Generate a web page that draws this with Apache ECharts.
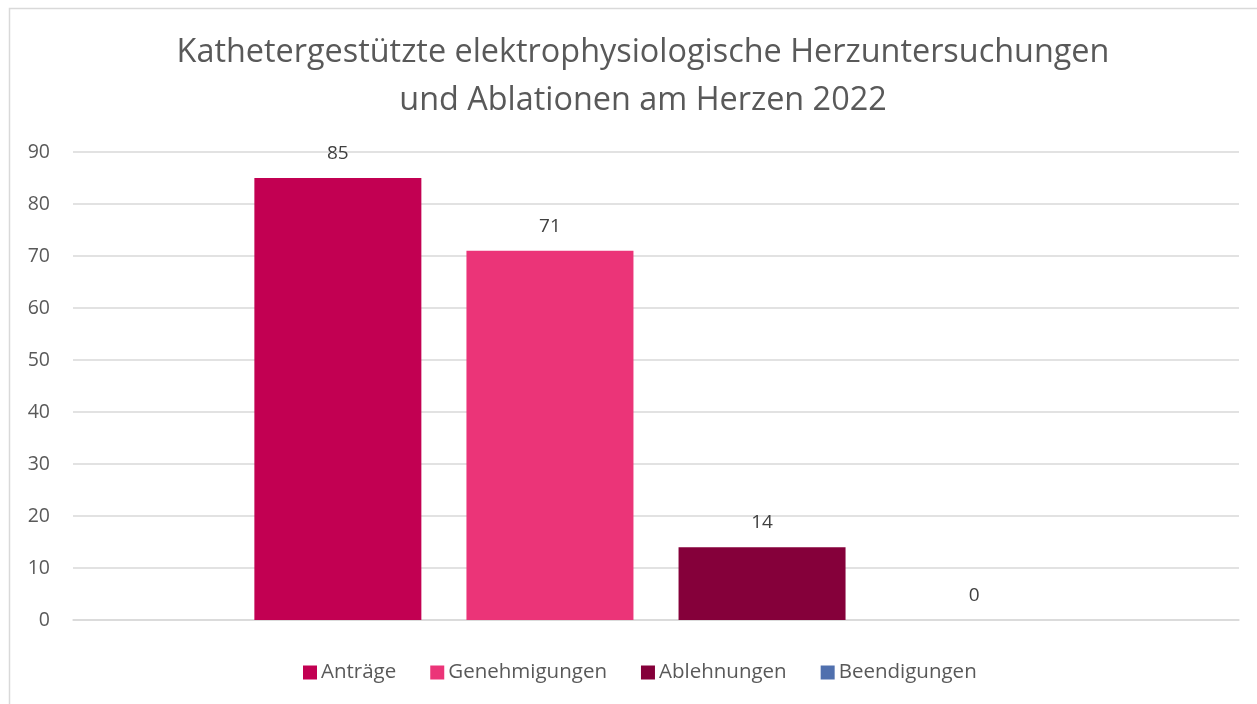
<!DOCTYPE html>
<html>
<head>
<meta charset="utf-8">
<script src="https://cdn.jsdelivr.net/npm/echarts@6/dist/echarts.min.js"></script>
<style>
  html, body { margin: 0; padding: 0; background: #fff; }
  #chart { width: 1257px; height: 704px; }
</style>
</head>
<body>
<div id="chart"></div>
<script>
const categories = ["2022"];
const seriesNames = ["Anträge", "Genehmigungen", "Ablehnungen", "Beendigungen"];
const seriesValues = [[85], [71], [14], [0]];
const seriesColors = ["#C20052", "#EB3478", "#85003A", "#5070AE"];
const yTicks = { min: 0, max: 90, interval: 10 };

const chart = echarts.init(document.getElementById("chart"));
const font = "'Open Sans', sans-serif";

chart.setOption({
  animation: false,
  textStyle: { fontFamily: font },
  title: {
    text: "Kathetergestützte elektrophysiologische Herzuntersuchungen\nund Ablationen am Herzen 2022",
    left: 638,
    textAlign: "center",
    top: 24,
    textStyle: { fontFamily: font, fontSize: 32.4, fontWeight: "normal", color: "#595959", lineHeight: 48 }
  },
  graphic: [
    {
      type: "rect",
      shape: { x: 9.5, y: 8.5, width: 1300, height: 760 },
      style: { fill: "none", stroke: "#d9d9d9", lineWidth: 1.5 },
      silent: true
    }
  ],
  legend: {
    data: seriesNames,
    left: 298,
    top: 657,
    itemWidth: 14,
    itemHeight: 14,
    itemGap: 34,
    icon: "rect",
    textStyle: { fontFamily: font, fontSize: 20.5, color: "#595959", padding: [0, 0, 0, -1] }
  },
  grid: { left: 73, right: 18, top: 152, bottom: 84 },
  xAxis: {
    type: "category",
    data: categories,
    axisLine: { lineStyle: { color: "#d9d9d9", width: 1.5 } },
    axisTick: { show: false },
    axisLabel: { show: false }
  },
  yAxis: {
    type: "value",
    min: yTicks.min,
    max: yTicks.max,
    interval: yTicks.interval,
    axisLine: { show: false },
    axisTick: { show: false },
    axisLabel: { fontFamily: font, fontSize: 19.5, color: "#595959", margin: 23 },
    splitLine: { lineStyle: { color: "#d9d9d9", width: 1.5 } }
  },
  series: seriesNames.map((name, i) => ({
    name: name,
    type: "bar",
    data: seriesValues[i],
    barWidth: 167,
    barGap: "27%",
    itemStyle: { color: seriesColors[i] },
    label: {
      show: true,
      position: "top",
      distance: 15,
      fontFamily: font,
      fontSize: 19,
      color: "#404040"
    }
  }))
});
</script>
</body>
</html>
